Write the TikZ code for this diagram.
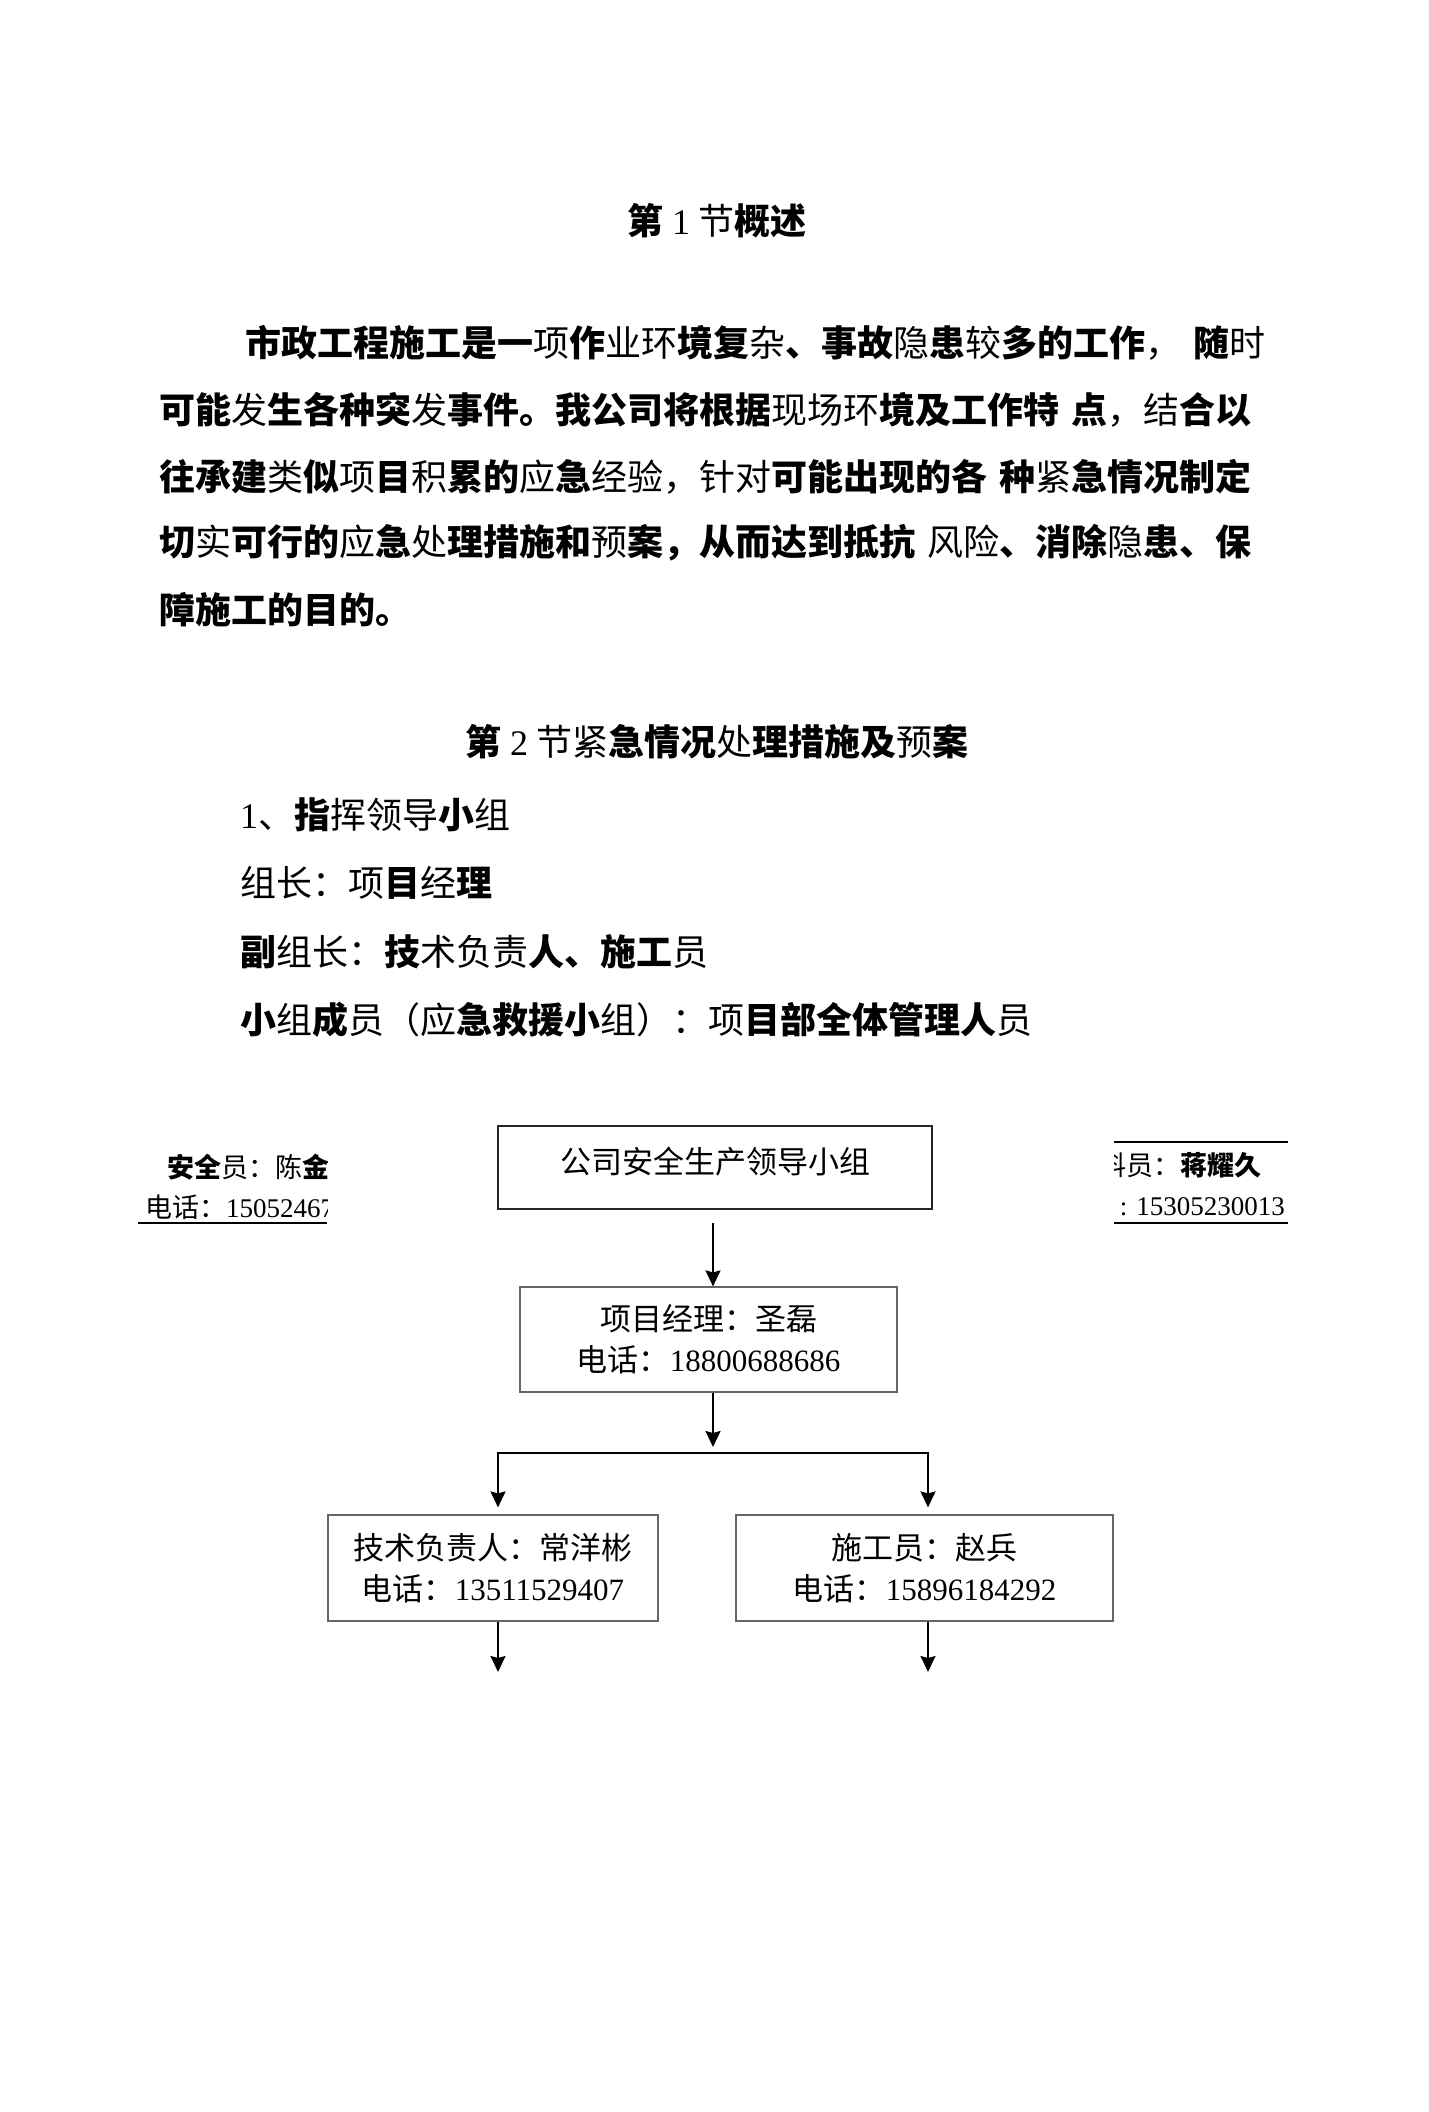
\documentclass[tikz,border=0pt]{standalone}
\usepackage{fontspec}
\setmainfont{Liberation Serif}
\newfontfamily\cjk{Noto Sans CJK SC}
\usetikzlibrary{arrows.meta}
\newcommand{\lite}[1]{{\mdseries #1}}
\newcommand{\digs}[1]{{\rmfamily\mdseries #1}}

\tikzset{
  body/.style={anchor=west,inner sep=0pt,font=\fontsize{36}{40}\selectfont\cjk\bfseries},
  heading/.style={inner sep=0pt,font=\fontsize{36}{40}\selectfont\cjk\bfseries},
  side/.style={inner sep=0pt,font=\fontsize{27}{30}\selectfont\cjk},
  box/.style={draw=black!60,line width=1.2pt,inner sep=0pt,align=center,font=\fontsize{31}{41}\selectfont\cjk},
  flow/.style={line width=2pt,-{Stealth[length=16pt,width=15pt,inset=2pt]}}
}

\begin{document}
\begin{tikzpicture}[x=1pt,y=-1pt]
\fill [white] (0,0) rectangle (1428,2112);
\useasboundingbox (0,0) rectangle (1428,2112);

% headings and text
\node [heading] (sec1) at (717,221) {第 \digs{1} \lite{节}概述};
\node [body] (p1) at (245,343) {市政工程施工是一\lite{项}作\lite{业环}境复\lite{杂}、事故\lite{隐}患\lite{较}多的工作\lite{，}\hspace{12pt}随\lite{时}};
\node [body] (p2) at (159,410) {可能\lite{发}生各种突\lite{发}事件。我公司将根据\lite{现场环}境及工作特\hspace{12pt}点\lite{，结}合以};
\node [body] (p3) at (159,477) {往承建\lite{类}似\lite{项}目\lite{积}累的\lite{应}急\lite{经验，针对}可能出现的各\hspace{12pt}种\lite{紧}急情况制定};
\node [body] (p4) at (159,543) {切\lite{实}可行的\lite{应}急\lite{处}理措施和\lite{预}案，从而达到抵抗\hspace{12pt}\lite{风险}、消除\lite{隐}患、保};
\node [body] (p5) at (159,610) {障施工的目的。};

\node [heading] (sec2) at (717,742) {第 \digs{2} \lite{节紧}急情况\lite{处}理措施及\lite{预}案};
\node [body] (item1) at (240,815) {\digs{1}\lite{、}指\lite{挥领导}小\lite{组}};
\node [body] (item2) at (240,883) {\lite{组长：项}目\lite{经}理};
\node [body] (item3) at (240,952) {副\lite{组长：}技\lite{术负责}人、施工\lite{员}};
\node [body] (item4) at (240,1020) {小\lite{组}成\lite{员（应}急救援小\lite{组）：项}目部全体管理人\lite{员}};

% side notes, cut off at the page frame
\begin{scope}
\clip (100,1100) rectangle (327,1240);
\node [side,anchor=west] (safety) at (167,1167) {{\bfseries 安全}员：陈{\bfseries 金}};
\node [side,anchor=west] (safetytel) at (145,1207) {电话：\digs{15052467}};
\end{scope}
\draw [line width=1.5pt] (138,1223) -- (327,1223);

\begin{scope}
\clip (1114,1100) rectangle (1320,1240);
\node [side,anchor=east] (material) at (1262,1165) {料员：{\bfseries 蒋耀久}};
\node [side,anchor=east] (materialtel) at (1285,1207) {\digs{: 15305230013}};
\end{scope}
\draw [line width=1.5pt] (1114,1142) -- (1288,1142);
\draw [line width=1.5pt] (1114,1223) -- (1288,1223);

% chart
\node [box,draw=black!85,line width=1.6pt,minimum width=434pt,minimum height=83pt] (group) at (715,1167.5) {\raisebox{14pt}{公司安全生产领导小组}};
\node [box,minimum width=377pt,minimum height=105pt] (manager) at (708.5,1339.5) {项目经理：圣磊\\电话：\digs{18800688686}};
\node [box,minimum width=330pt,minimum height=106pt] (tech) at (493,1568) {技术负责人：常洋彬\\电话：\digs{13511529407}};
\node [box,minimum width=377pt,minimum height=106pt] (builder) at (924.5,1568) {施工员：赵兵\\电话：\digs{15896184292}};

\coordinate (top) at (713,1223);
\coordinate (split) at (713,1447);
\coordinate (bl) at (498,1453);
\coordinate (br) at (928,1453);
\coordinate (techend) at (498,1672);
\coordinate (builderend) at (928,1672);

\draw [flow] (top) -- (manager.north -| top);
\draw [flow] (manager.south -| split) -- (split);
\draw [line width=2pt,line cap=rect] (bl) -- (br);
\draw [flow,shorten >=7pt] (bl) -- (tech.north -| bl);
\draw [flow,shorten >=7pt] (br) -- (builder.north -| br);
\draw [flow] (tech.south -| techend) -- (techend);
\draw [flow] (builder.south -| builderend) -- (builderend);
\end{tikzpicture}
\end{document}
